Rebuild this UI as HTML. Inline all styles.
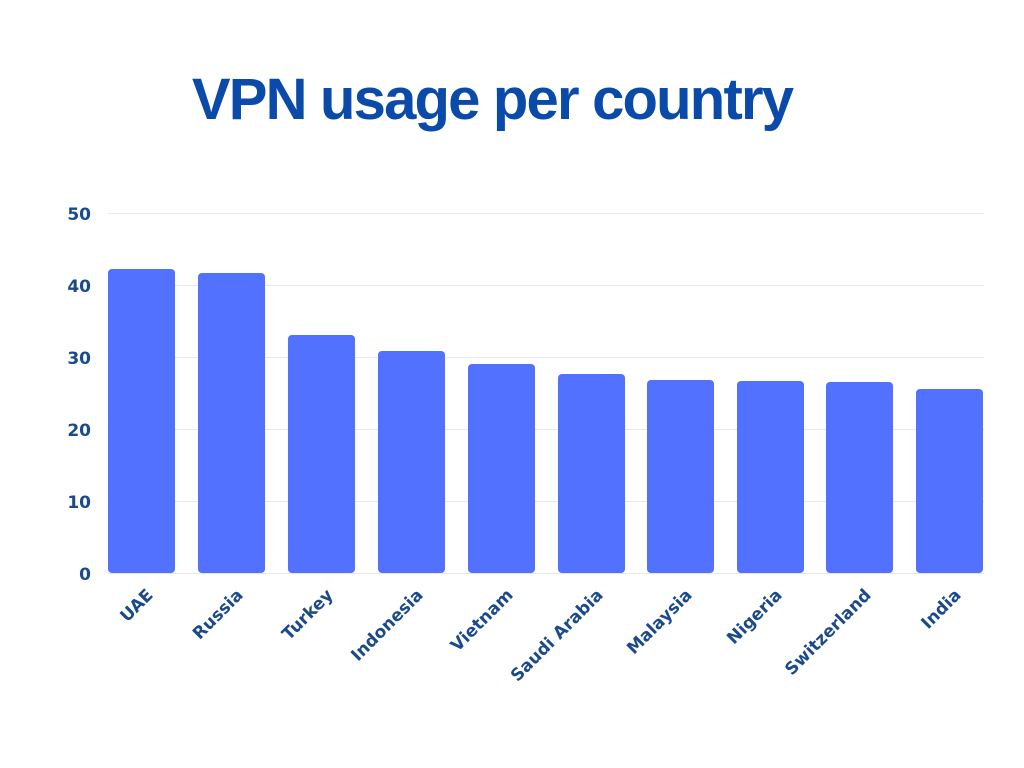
<!DOCTYPE html>
<html><head><style>body{margin:0;background:#fff}svg{display:block}</style></head><body>
<svg width="1024" height="768" xmlns="http://www.w3.org/2000/svg" font-family="Liberation Sans, sans-serif">
<rect width="1024" height="768" fill="#fff"/>
<text x="492" y="119" text-anchor="middle" font-size="58" font-weight="bold" fill="#0a4aa8" letter-spacing="-1.8">VPN usage per country</text>
<g stroke="#e6e8ee" stroke-width="1">
<line x1="108" x2="984" y1="213.5" y2="213.5"/><line x1="108" x2="984" y1="285.5" y2="285.5"/><line x1="108" x2="984" y1="357.5" y2="357.5"/><line x1="108" x2="984" y1="429.5" y2="429.5"/><line x1="108" x2="984" y1="501.5" y2="501.5"/><line x1="108" x2="984" y1="573.5" y2="573.5"/>
</g>
<g font-size="17" font-weight="bold" fill="#1b4a8a" text-anchor="end" font-family="DejaVu Sans, sans-serif">
<text x="91" y="220">50</text><text x="91" y="292">40</text><text x="91" y="364">30</text><text x="91" y="436">20</text><text x="91" y="508">10</text><text x="91" y="580">0</text>
</g>
<g fill="#5271ff">
<rect x="108" y="269" width="67" height="304" rx="4"/>
<rect x="198" y="273" width="67" height="300" rx="4"/>
<rect x="288" y="335" width="67" height="238" rx="4"/>
<rect x="378" y="351" width="67" height="222" rx="4"/>
<rect x="468" y="364" width="67" height="209" rx="4"/>
<rect x="558" y="374" width="67" height="199" rx="4"/>
<rect x="647" y="380" width="67" height="193" rx="4"/>
<rect x="737" y="381" width="67" height="192" rx="4"/>
<rect x="826" y="382" width="67" height="191" rx="4"/>
<rect x="916" y="389" width="67" height="184" rx="4"/>
</g>
<g font-size="17" font-weight="bold" fill="#1b4a8a" text-anchor="end" font-family="DejaVu Sans, sans-serif">
<text transform="translate(154,596) rotate(-45)">UAE</text>
<text transform="translate(244,596) rotate(-45)">Russia</text>
<text transform="translate(334,596) rotate(-45)">Turkey</text>
<text transform="translate(424,596) rotate(-45)">Indonesia</text>
<text transform="translate(514,596) rotate(-45)">Vietnam</text>
<text transform="translate(604,596) rotate(-45)">Saudi Arabia</text>
<text transform="translate(693,596) rotate(-45)">Malaysia</text>
<text transform="translate(783,596) rotate(-45)">Nigeria</text>
<text transform="translate(872,596) rotate(-45)">Switzerland</text>
<text transform="translate(962,596) rotate(-45)">India</text>
</g>
</svg>
</body></html>
